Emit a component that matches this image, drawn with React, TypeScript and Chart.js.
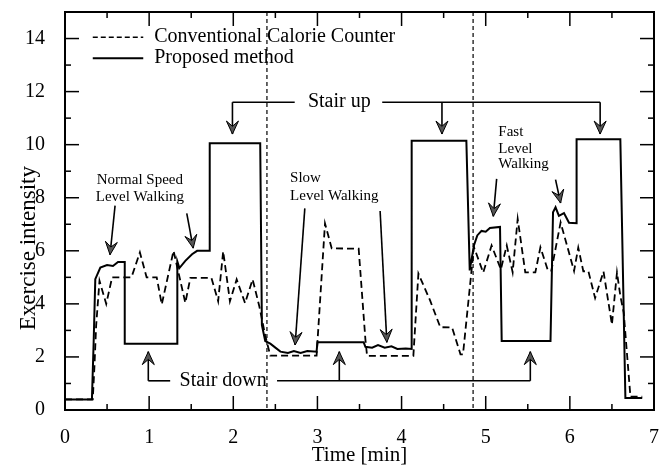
import React, { useEffect, useRef } from "react";
import { Chart, registerables } from "chart.js";

Chart.register(...registerables);

// ---- data (time in min, exercise intensity) ----
const proposedX = [0, 0.32, 0.34, 0.36, 0.42, 0.5, 0.57, 0.63, 0.71, 0.71, 1.335, 1.335, 1.36, 1.43, 1.51, 1.57, 1.72, 1.72, 2.32, 2.34, 2.38, 2.44, 2.5, 2.56, 2.65, 2.72, 2.8, 2.88, 2.99, 3.0, 3.55, 3.57, 3.65, 3.72, 3.8, 3.88, 3.95, 4.05, 4.12, 4.12, 4.77, 4.81, 4.86, 4.9, 4.95, 5.0, 5.05, 5.17, 5.19, 5.77, 5.8, 5.83, 5.87, 5.93, 5.99, 6.08, 6.08, 6.6, 6.66, 6.86];
const proposedY = [0.4, 0.4, 2.5, 4.93, 5.37, 5.46, 5.43, 5.58, 5.58, 2.5, 2.5, 5.6, 5.35, 5.62, 5.87, 6.0, 6.0, 10.05, 10.05, 3.2, 2.6, 2.5, 2.35, 2.2, 2.15, 2.22, 2.15, 2.22, 2.2, 2.55, 2.55, 2.38, 2.35, 2.45, 2.35, 2.4, 2.3, 2.32, 2.3, 10.15, 10.15, 5.26, 6.2, 6.58, 6.75, 6.72, 6.86, 6.9, 2.6, 2.6, 7.45, 7.64, 7.32, 7.42, 7.06, 7.04, 10.2, 10.2, 0.45, 0.45];

const conventionalX = [0, 0.33, 0.35, 0.37, 0.41, 0.49, 0.56, 0.79, 0.89, 0.97, 1.09, 1.15, 1.29, 1.43, 1.49, 1.74, 1.82, 1.88, 1.96, 2.04, 2.14, 2.23, 2.31, 2.38, 2.44, 2.99, 3.09, 3.17, 3.49, 3.57, 3.59, 4.14, 4.2, 4.34, 4.46, 4.6, 4.7, 4.73, 4.86, 4.97, 5.07, 5.18, 5.25, 5.32, 5.38, 5.47, 5.59, 5.65, 5.74, 5.78, 5.89, 6.05, 6.1, 6.16, 6.22, 6.3, 6.4, 6.5, 6.56, 6.6, 6.64, 6.72, 6.86];
const conventionalY = [0.4, 0.4, 1.65, 3.17, 4.87, 4.0, 5.0, 5.0, 5.94, 5.0, 5.0, 3.98, 6.0, 4.04, 4.98, 4.98, 4.1, 5.98, 4.1, 4.92, 4.03, 4.92, 3.9, 2.8, 2.05, 2.05, 7.03, 6.09, 6.08, 2.66, 2.04, 2.04, 5.14, 4.12, 3.12, 3.11, 2.1, 2.1, 6.14, 5.18, 6.2, 5.3, 6.2, 5.19, 7.2, 5.19, 5.19, 6.13, 5.25, 5.25, 7.07, 5.24, 6.12, 5.23, 5.23, 4.22, 5.22, 3.22, 5.18, 4.3, 3.67, 0.5, 0.5];

const xTickValues = [0, 1, 2, 3, 4, 5, 6, 7];
const yTickValues = [0, 2, 4, 6, 8, 10, 12, 14];
const phaseBoundaries = [2.4, 4.85];

const yTitle = "Exercise intensity";
const yTitleCenter = 6.1; // in data units along the y axis

const legendLabels = ["Conventional Calorie Counter", "Proposed method"];
const legendY = [14.05, 13.26];
const legendLineX = [0.33, 0.93];
const legendTextX = 1.06;

const stairUpText = "Stair up";
const stairUpTextPos = [3.26, 11.6];
const stairUpArrowX = [1.99, 4.48, 6.36];
const stairUpLineY = 11.6;
const stairUpTipY = 10.4;
const stairUpSegments = [[1.99, 2.73], [3.77, 6.36]];

const stairDownText = "Stair down";
const stairDownTextPos = [1.88, 1.1];
const stairDownArrowX = [0.99, 3.26, 5.53];
const stairDownLineY = 1.1;
const stairDownTipY = 2.2;
const stairDownSegments = [[0.99, 1.25], [2.52, 5.53]];

const normalLabel = ["Normal Speed", "Level Walking"];
const normalLabelX = 0.89;
const normalLabelY = [8.67, 8.03];
const normalArrows = [[0.595, 7.7, 0.535, 5.85], [1.447, 7.41, 1.524, 6.1]];

const slowLabel = ["Slow", "Level Walking"];
const slowLabelX = 2.675;
const slowLabelY = [8.75, 8.07];
const slowArrows = [[2.85, 7.6, 2.735, 2.45], [3.745, 7.5, 3.825, 2.55]];

const fastLabel = ["Fast", "Level", "Walking"];
const fastLabelX = 5.15;
const fastLabelY = [10.47, 9.84, 9.28];
const fastArrows = [[5.13, 8.71, 5.09, 7.3], [5.83, 8.68, 5.89, 7.8]];

const SERIF = '"Liberation Serif", "Times New Roman", serif';

function zip(xs: number[], ys: number[]) {
  return xs.map((x, i) => ({ x, y: ys[i] }));
}

function drawArrowHead(ctx: CanvasRenderingContext2D, x0: number, y0: number, x1: number, y1: number) {
  const ang = Math.atan2(y1 - y0, x1 - x0);
  const len = 13;
  const half = 6;
  const bx = x1 - len * Math.cos(ang);
  const by = y1 - len * Math.sin(ang);
  const nx = -Math.sin(ang);
  const ny = Math.cos(ang);
  const notchX = x1 - len * 0.6 * Math.cos(ang);
  const notchY = y1 - len * 0.6 * Math.sin(ang);
  ctx.beginPath();
  ctx.moveTo(x1, y1);
  ctx.lineTo(bx + nx * half, by + ny * half);
  ctx.lineTo(notchX, notchY);
  ctx.lineTo(bx - nx * half, by - ny * half);
  ctx.closePath();
  ctx.fillStyle = "#555";
  ctx.fill();
  ctx.lineWidth = 1;
  ctx.strokeStyle = "#000";
  ctx.stroke();
}

function drawArrow(ctx: CanvasRenderingContext2D, x0: number, y0: number, x1: number, y1: number) {
  ctx.beginPath();
  ctx.moveTo(x0, y0);
  ctx.lineTo(x1, y1);
  ctx.lineWidth = 1.6;
  ctx.strokeStyle = "#000";
  ctx.stroke();
  drawArrowHead(ctx, x0, y0, x1, y1);
}

const annotationPlugin = {
  id: "annotations",
  afterDatasetsDraw(chart: any) {
    const { ctx, chartArea: a, scales } = chart;
    const X = (v: number) => scales.x.getPixelForValue(v);
    const Y = (v: number) => scales.y.getPixelForValue(v);
    const line = (x0: number, y0: number, x1: number, y1: number) => {
      ctx.beginPath();
      ctx.moveTo(x0, y0);
      ctx.lineTo(x1, y1);
      ctx.stroke();
    };
    ctx.save();
    ctx.strokeStyle = "#000";
    ctx.fillStyle = "#000";

    // y-axis title
    ctx.save();
    ctx.translate(a.left - 36, Y(yTitleCenter));
    ctx.rotate(-Math.PI / 2);
    ctx.font = `23px ${SERIF}`;
    ctx.textAlign = "center";
    ctx.textBaseline = "middle";
    ctx.fillText(yTitle, 0, 0);
    ctx.restore();

    // phase boundaries
    ctx.lineWidth = 1.2;
    ctx.setLineDash([4, 3]);
    phaseBoundaries.forEach((b) => line(X(b), a.top, X(b), a.bottom));
    ctx.setLineDash([]);

    // frame
    ctx.lineWidth = 2;
    ctx.strokeRect(a.left, a.top, a.right - a.left, a.bottom - a.top);

    // inward ticks
    ctx.lineWidth = 1.5;
    for (let k = 1; k < 14; k++) {
      const v = k * 0.5;
      const len = k % 2 === 0 ? 14 : 6;
      const px = X(v);
      line(px, a.bottom, px, a.bottom - len);
      line(px, a.top, px, a.top + len);
    }
    for (let v = 1; v < 15; v++) {
      const len = v % 2 === 0 ? 14 : 6;
      const py = Y(v);
      line(a.left, py, a.left + len, py);
      line(a.right, py, a.right - len, py);
    }

    // legend
    ctx.lineWidth = 1.6;
    ctx.setLineDash([5, 3]);
    line(X(legendLineX[0]), Y(legendY[0]), X(legendLineX[1]), Y(legendY[0]));
    ctx.setLineDash([]);
    ctx.lineWidth = 2;
    line(X(legendLineX[0]), Y(legendY[1]), X(legendLineX[1]), Y(legendY[1]));
    ctx.font = `20px ${SERIF}`;
    ctx.textBaseline = "middle";
    ctx.textAlign = "left";
    legendLabels.forEach((t, i) => ctx.fillText(t, X(legendTextX), Y(legendY[i])));

    // Stair up bracket
    ctx.lineWidth = 1.6;
    stairUpSegments.forEach(([s, e]) => line(X(s), Y(stairUpLineY), X(e), Y(stairUpLineY)));
    stairUpArrowX.forEach((ax) => drawArrow(ctx, X(ax), Y(stairUpLineY), X(ax), Y(stairUpTipY)));
    ctx.fillStyle = "#000";
    ctx.font = `20px ${SERIF}`;
    ctx.textAlign = "center";
    ctx.fillText(stairUpText, X(stairUpTextPos[0]), Y(stairUpTextPos[1]));

    // Stair down bracket
    ctx.lineWidth = 1.6;
    ctx.strokeStyle = "#000";
    stairDownSegments.forEach(([s, e]) => line(X(s), Y(stairDownLineY), X(e), Y(stairDownLineY)));
    stairDownArrowX.forEach((ax) => drawArrow(ctx, X(ax), Y(stairDownLineY), X(ax), Y(stairDownTipY)));
    ctx.fillStyle = "#000";
    ctx.textAlign = "center";
    ctx.fillText(stairDownText, X(stairDownTextPos[0]), Y(stairDownTextPos[1]));

    // walking labels
    ctx.font = `15px ${SERIF}`;
    ctx.textAlign = "center";
    normalLabel.forEach((t, i) => ctx.fillText(t, X(normalLabelX), Y(normalLabelY[i])));
    ctx.textAlign = "left";
    slowLabel.forEach((t, i) => ctx.fillText(t, X(slowLabelX), Y(slowLabelY[i])));
    fastLabel.forEach((t, i) => ctx.fillText(t, X(fastLabelX), Y(fastLabelY[i])));
    [...normalArrows, ...slowArrows, ...fastArrows].forEach(([x0, y0, x1, y1]) => {
      drawArrow(ctx, X(x0), Y(y0), X(x1), Y(y1));
      ctx.fillStyle = "#000";
    });

    ctx.restore();
  },
};

export default function App() {
  const canvasRef = useRef<HTMLCanvasElement | null>(null);

  useEffect(() => {
    const canvas = canvasRef.current;
    if (!canvas) return;
    const chart = new Chart(canvas, {
      type: "line",
      data: {
        datasets: [
          {
            label: "Conventional Calorie Counter",
            data: zip(conventionalX, conventionalY),
            borderColor: "#000",
            borderWidth: 1.8,
            borderDash: [7, 4],
            pointRadius: 0,
            tension: 0,
            fill: false,
          },
          {
            label: "Proposed method",
            data: zip(proposedX, proposedY),
            borderColor: "#000",
            borderWidth: 2,
            pointRadius: 0,
            tension: 0,
            fill: false,
          },
        ],
      },
      options: {
        responsive: false,
        animation: false,
        devicePixelRatio: 1,
        layout: { padding: { top: 12, right: 15, left: 0, bottom: 0 } },
        plugins: { legend: { display: false }, tooltip: { enabled: false } },
        scales: {
          x: {
            type: "linear",
            min: 0,
            max: 7,
            grid: { display: false },
            border: { display: false },
            afterBuildTicks: (s: any) => {
              s.ticks = xTickValues.map((v) => ({ value: v }));
            },
            afterFit: (s: any) => {
              s.height = 60;
              s.paddingLeft = 0;
              s.paddingRight = 0;
            },
            ticks: {
              color: "#000",
              padding: 8,
              maxRotation: 0,
              font: { family: SERIF, size: 20 },
            },
            title: {
              display: true,
              text: "Time [min]",
              color: "#000",
              font: { family: SERIF, size: 21 },
              padding: { top: 0, bottom: 2 },
            },
          },
          y: {
            type: "linear",
            min: 0,
            max: 15,
            grid: { display: false },
            border: { display: false },
            afterBuildTicks: (s: any) => {
              s.ticks = yTickValues.map((v) => ({ value: v }));
            },
            afterFit: (s: any) => {
              s.width = 65;
              s.paddingTop = 0;
              s.paddingBottom = 0;
            },
            ticks: {
              color: "#000",
              padding: 12,
              font: { family: SERIF, size: 20 },
            },
            title: { display: false },
          },
        },
      },
      plugins: [annotationPlugin],
    } as any);
    return () => chart.destroy();
  }, []);

  return (
    <div style={{ position: "absolute", left: 0, top: 0, width: 669, height: 470, background: "#fff" }}>
      <canvas ref={canvasRef} width={669} height={470} style={{ width: 669, height: 470 }} />
    </div>
  );
}
